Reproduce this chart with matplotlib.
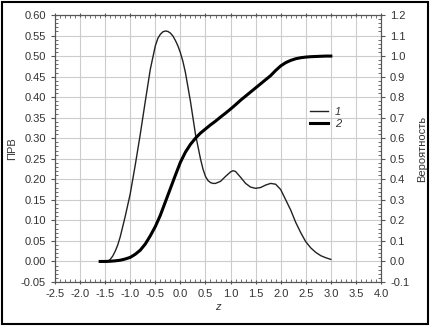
import matplotlib
matplotlib.use('Agg')
import matplotlib.pyplot as plt
from matplotlib.ticker import MultipleLocator, AutoMinorLocator
from matplotlib.patches import Rectangle

plt.rcParams['font.family'] = ['Liberation Sans', 'DejaVu Sans']
plt.rcParams['axes.unicode_minus'] = False

# ПРВ (кривая 1)
z_pdf = [-1.45, -1.4, -1.35, -1.3, -1.25, -1.2, -1.1, -1.0, -0.9, -0.8, -0.7, -0.6,
         -0.5, -0.45, -0.4, -0.35, -0.3, -0.25, -0.2, -0.15, -0.1, -0.05, 0.0, 0.05,
         0.1, 0.2, 0.3, 0.4, 0.45, 0.5, 0.55, 0.6, 0.65, 0.7, 0.8, 0.9, 1.0,
         1.05, 1.1, 1.2, 1.3, 1.4, 1.5, 1.6, 1.7, 1.8, 1.9, 2.0, 2.1, 2.2, 2.3,
         2.4, 2.5, 2.6, 2.7, 2.8, 2.9, 3.0]
pdf = [0.0, 0.005, 0.013, 0.025, 0.04, 0.06, 0.11, 0.165, 0.235, 0.31, 0.39, 0.468,
       0.525, 0.543, 0.553, 0.559, 0.561, 0.56, 0.556, 0.549, 0.538, 0.525, 0.508, 0.487,
       0.46, 0.39, 0.31, 0.25, 0.225, 0.207, 0.197, 0.192, 0.19, 0.19, 0.195, 0.207, 0.218,
       0.221, 0.219, 0.205, 0.19, 0.181, 0.178, 0.18, 0.186, 0.19,
       0.188, 0.175, 0.15, 0.125, 0.095, 0.07, 0.048, 0.033, 0.022, 0.014, 0.009, 0.005]

# Вероятность (кривая 2)
z_cdf = [-1.6, -1.5, -1.4, -1.3, -1.2, -1.1, -1.0, -0.9, -0.8, -0.7, -0.6, -0.5,
         -0.4, -0.3, -0.2, -0.1, 0.0, 0.1, 0.2, 0.3, 0.4, 0.5, 0.6, 0.7, 0.8, 0.9,
         1.0, 1.1, 1.2, 1.3, 1.4, 1.5, 1.6, 1.7, 1.8, 1.9, 2.0, 2.1, 2.2, 2.3, 2.4,
         2.5, 2.6, 2.7, 2.8, 2.9, 3.0]
cdf = [0.0, 0.0, 0.001, 0.003, 0.006, 0.012, 0.02, 0.035, 0.055, 0.085, 0.125, 0.17,
       0.225, 0.29, 0.355, 0.42, 0.483, 0.532, 0.57, 0.6, 0.625, 0.645, 0.665, 0.683,
       0.703, 0.722, 0.742, 0.763, 0.785, 0.805, 0.825, 0.845, 0.865, 0.885, 0.905,
       0.93, 0.952, 0.968, 0.979, 0.987, 0.992, 0.995, 0.997, 0.998, 0.999, 1.0, 1.0]

fig = plt.figure(figsize=(4.3, 3.26), dpi=100)
ax = fig.add_axes([0.128, 0.135, 0.758, 0.819])
ax2 = ax.twinx()

tc = '#333333'
l1, = ax.plot(z_pdf, pdf, color='#222222', lw=1.0)
l2, = ax2.plot(z_cdf, cdf, color='black', lw=2.2)

ax.set_xlim(-2.5, 4.0)
ax.set_ylim(-0.05, 0.60)
ax2.set_ylim(-0.1, 1.2)
ax.xaxis.set_major_locator(MultipleLocator(0.5))
ax.yaxis.set_major_locator(MultipleLocator(0.05))
ax2.yaxis.set_major_locator(MultipleLocator(0.1))
ax.xaxis.set_major_formatter(plt.FuncFormatter(lambda v, p: '%.1f' % v))
ax.yaxis.set_major_formatter(plt.FuncFormatter(lambda v, p: '%.2f' % v))
ax2.yaxis.set_major_formatter(plt.FuncFormatter(lambda v, p: '%.1f' % v))
for a in (ax.xaxis, ax.yaxis, ax2.yaxis):
    a.set_minor_locator(AutoMinorLocator(5))

ax.grid(True, color='#cccccc', lw=0.8)
ax.set_axisbelow(True)
ax.tick_params(which='major', direction='out', length=3, width=0.8,
               labelsize=8, labelcolor=tc, color='#555555')
ax.tick_params(which='minor', direction='in', length=2, width=0.6,
               color='#555555', top=True)
ax.tick_params(axis='x', which='major', top=True, direction='inout')
ax2.tick_params(which='major', direction='out', length=3, width=0.8,
                labelsize=8, labelcolor=tc, color='#555555')
ax2.tick_params(which='minor', direction='in', length=2, width=0.6, color='#555555')
for a in (ax, ax2):
    for s in a.spines.values():
        s.set_color('#555555')
        s.set_linewidth(0.8)

ax.set_xlabel('z', fontsize=8, style='italic', color=tc, labelpad=2)
ax.set_ylabel('ПРВ', fontsize=8, color=tc)
ax.yaxis.set_label_coords(-0.117, 0.5)
ax2.set_ylabel('Вероятность', fontsize=8, color=tc)
ax2.yaxis.set_label_coords(1.11, 0.5)

ax2.legend([l1, l2], ['1', '2'], loc='center', bbox_to_anchor=(0.83, 0.615),
           frameon=False, handlelength=1.6, handletextpad=0.6, labelspacing=0.2,
           prop={'size': 8, 'style': 'italic'}, labelcolor=tc)

fig.patches.append(Rectangle((0.004, 0.005), 0.992, 0.99, transform=fig.transFigure,
                             fill=False, edgecolor='black', lw=1.5))

fig.savefig('out.png', dpi=100)
